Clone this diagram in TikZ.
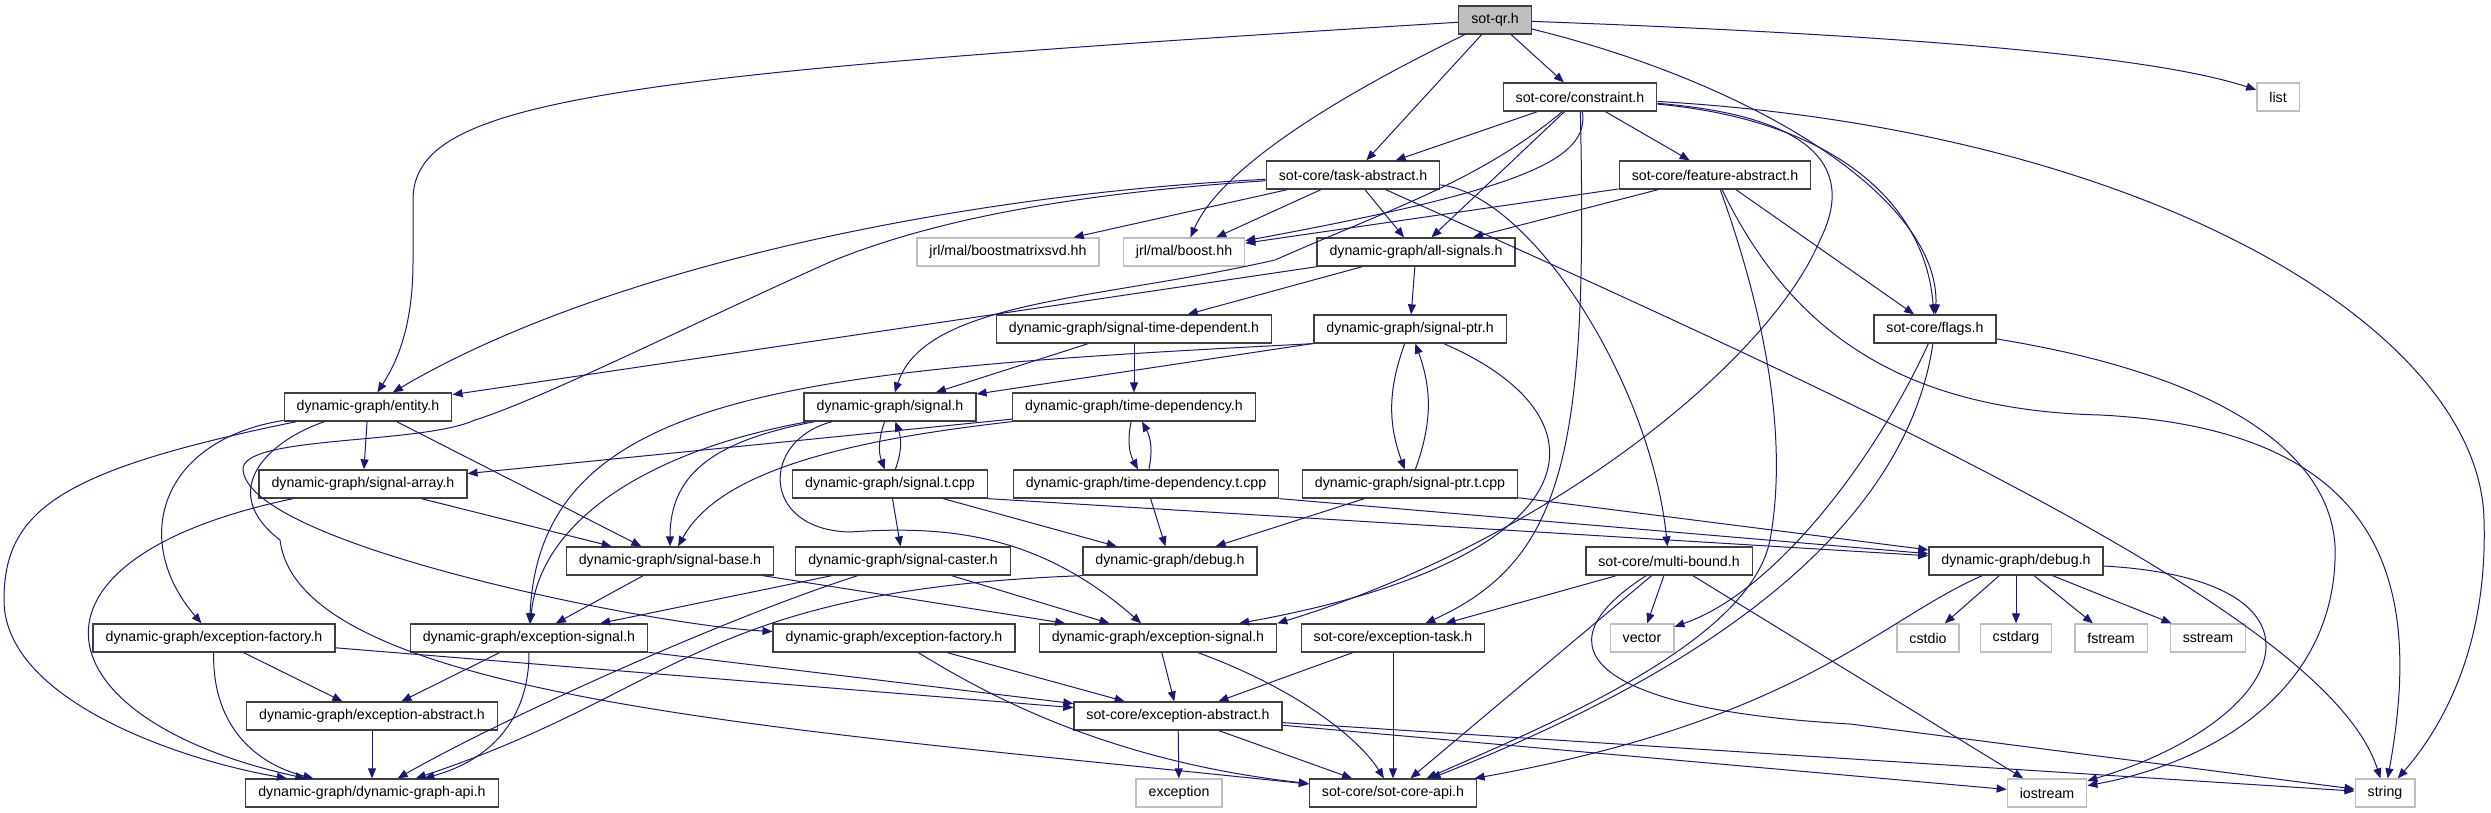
\documentclass[tikz,border=0pt]{standalone}
\usepackage{fontspec}
\setmainfont{Liberation Sans}[Ligatures=NoCommon]
\usetikzlibrary{arrows.meta}
\definecolor{edgeblue}{HTML}{191970}
\definecolor{boxgray}{HTML}{BFBFBF}
\definecolor{boxline}{HTML}{404040}

\begin{document}
\begin{tikzpicture}[x=1pt,y=-1pt]
\tikzset{
  filenode/.style={rectangle,draw=boxline,line width=1.3pt,fill=white,minimum height=28pt,inner xsep=12.5pt,inner ysep=2pt,font=\fontsize{14.2}{16}\selectfont},
  rootnode/.style={filenode,fill=boxgray},
  sysnode/.style={filenode,draw=boxgray},
  include/.style={-{Triangle[length=10pt,width=8pt]},draw=edgeblue,line width=1pt}
}
\useasboundingbox (0,0) rectangle (2491,813);
\node[rootnode] (n_sotqr) at (1495,20) {sot-qr.h};
\node[sysnode] (n_list) at (2278,97) {list};
\node[filenode] (n_constraint) at (1580,97) {sot-core/constraint.h};
\node[filenode] (n_task) at (1353,175) {sot-core/task-abstract.h};
\node[filenode] (n_feature) at (1715,175) {sot-core/feature-abstract.h};
\node[sysnode] (n_boostsvd) at (1008,252) {jrl/mal/boostmatrixsvd.hh};
\node[sysnode] (n_boost) at (1184,252) {jrl/mal/boost.hh};
\node[filenode] (n_allsig) at (1416,252) {dynamic-graph/all-signals.h};
\node[filenode] (n_sigtd) at (1134,329) {dynamic-graph/signal-time-dependent.h};
\node[filenode] (n_sigptr) at (1410,329) {dynamic-graph/signal-ptr.h};
\node[filenode] (n_flags) at (1935,329) {sot-core/flags.h};
\node[filenode] (n_entity) at (368,407) {dynamic-graph/entity.h};
\node[filenode] (n_signal) at (890,407) {dynamic-graph/signal.h};
\node[filenode] (n_timedep) at (1134,407) {dynamic-graph/time-dependency.h};
\node[filenode] (n_sigarray) at (363,484) {dynamic-graph/signal-array.h};
\node[filenode] (n_sigt) at (890,484) {dynamic-graph/signal.t.cpp};
\node[filenode] (n_tdt) at (1146,484) {dynamic-graph/time-dependency.t.cpp};
\node[filenode] (n_sigptrt) at (1410,484) {dynamic-graph/signal-ptr.t.cpp};
\node[filenode] (n_sigbase) at (670,561) {dynamic-graph/signal-base.h};
\node[filenode] (n_caster) at (903,561) {dynamic-graph/signal-caster.h};
\node[filenode] (n_debugm) at (1170,561) {dynamic-graph/debug.h};
\node[filenode] (n_multibound) at (1669,561) {sot-core/multi-bound.h};
\node[filenode] (n_debugr) at (2016,561) {dynamic-graph/debug.h};
\node[filenode] (n_excfact) at (214,638) {dynamic-graph/exception-factory.h};
\node[filenode] (n_excsig) at (529,638) {dynamic-graph/exception-signal.h};
\node[filenode] (n_excfactb) at (894,638) {dynamic-graph/exception-factory.h};
\node[filenode] (n_excsigb) at (1158,638) {dynamic-graph/exception-signal.h};
\node[filenode] (n_exctask) at (1393,638) {sot-core/exception-task.h};
\node[sysnode] (n_vector) at (1642,638) {vector};
\node[sysnode] (n_cstdio) at (1928,638) {cstdio};
\node[sysnode] (n_cstdarg) at (2016,638) {cstdarg};
\node[sysnode] (n_fstream) at (2111,638) {fstream};
\node[sysnode] (n_sstream) at (2208,638) {sstream};
\node[filenode] (n_excabs) at (372,716) {dynamic-graph/exception-abstract.h};
\node[filenode] (n_sotexcabs) at (1178,716) {sot-core/exception-abstract.h};
\node[filenode] (n_dgapi) at (372,793) {dynamic-graph/dynamic-graph-api.h};
\node[sysnode] (n_exception) at (1179,793) {exception};
\node[filenode] (n_sotapi) at (1393,793) {sot-core/sot-core-api.h};
\node[sysnode] (n_iostream) at (2047,793) {iostream};
\node[sysnode] (n_string) at (2385,793) {string};
\draw[include] (n_sotqr) .. controls (600,75) and (413,100) .. (413,200) -- (413,262) .. controls (413,330) and (395,365) .. (n_entity);
\draw[include] (n_sotqr) -- (n_task);
\draw[include] (n_sotqr) .. controls (1330,100) and (1220,170) .. (n_boost);
\draw[include] (n_sotqr) -- (n_constraint);
\draw[include] (n_sotqr) .. controls (1900,35) and (2150,55) .. (n_list);
\draw[include] (n_sotqr) .. controls (1760,85) and (1940,200) .. (n_flags);
\draw[include] (n_constraint) -- (n_task);
\draw[include] (n_constraint) .. controls (1590,160) and (1520,190) .. (n_boost);
\draw[include] (n_constraint) -- (n_allsig);
\draw[include] (n_constraint) -- (n_feature);
\draw[include] (n_constraint) .. controls (1588,450) and (1565,560) .. (n_exctask);
\draw[include] (n_constraint) .. controls (1830,120) and (1925,200) .. (n_flags);
\draw[include] (n_constraint) .. controls (2150,130) and (2480,330) .. (2484,520) .. controls (2488,650) and (2440,730) .. (n_string);
\draw[include] (n_constraint) .. controls (1480,180) and (1400,205) .. (1275,260) .. controls (1100,300) and (925,300) .. (n_signal);
\draw[include] (n_constraint) .. controls (1800,115) and (1860,160) .. (1820,240) .. controls (1770,360) and (1550,540) .. (n_excsigb.north east);
\draw[include] (n_task) .. controls (950,195) and (600,270) .. (n_entity);
\draw[include] (n_task) -- (n_boostsvd);
\draw[include] (n_task) -- (n_boost);
\draw[include] (n_task) -- (n_allsig);
\draw[include] (n_task) .. controls (1530,195) and (1650,380) .. (n_multibound);
\draw[include] (n_task) .. controls (1900,420) and (2330,620) .. (n_string);
\draw[include] (n_task) .. controls (1050,195) and (920,225) .. (830,262) .. controls (700,320) and (540,400) .. (475,420) .. controls (420,445) and (240,435) .. (243,470) .. controls (250,545) and (650,625) .. (n_excfactb);
\draw[include] (n_feature) -- (n_boost);
\draw[include] (n_feature) -- (n_allsig);
\draw[include] (n_feature) -- (n_flags);
\draw[include] (n_feature) .. controls (1760,300) and (1790,430) .. (1770,540) .. controls (1750,640) and (1560,720) .. (n_sotapi);
\draw[include] (n_feature) .. controls (1790,330) and (1900,410) .. (2100,415) .. controls (2400,430) and (2420,600) .. (n_string);
\draw[include] (n_allsig) -- (n_entity);
\draw[include] (n_allsig) -- (n_sigtd);
\draw[include] (n_allsig) -- (n_sigptr);
\draw[include] (n_sigtd) -- (n_signal);
\draw[include] (n_sigtd) -- (n_timedep);
\draw[include] (n_sigptr) -- (n_signal);
\draw[include] (n_sigptr.south west) .. controls (800,370) and (540,390) .. (n_excsig);
\draw[include] (n_sigptr) to[bend right=20] (n_sigptrt);
\draw[include] (n_sigptrt) to[bend right=20] (n_sigptr);
\draw[include] (n_sigptr) .. controls (1620,420) and (1590,560) .. (n_excsigb);
\draw[include] (n_sigptrt) -- (n_debugm);
\draw[include] (n_sigptrt) -- (n_debugr);
\draw[include] (n_flags) .. controls (1880,450) and (1780,590) .. (n_vector);
\draw[include] (n_flags) .. controls (1910,500) and (1760,650) .. (n_sotapi);
\draw[include] (n_flags) .. controls (2250,380) and (2340,470) .. (2335,560) .. controls (2330,700) and (2200,765) .. (n_iostream);
\draw[include] (n_entity) -- (n_sigarray);
\draw[include] (n_entity) -- (n_sigbase);
\draw[include] (n_entity) .. controls (160,440) and (130,540) .. (n_excfact);
\draw[include] (n_entity) .. controls (60,470) and (4,510) .. (4,600) .. controls (4,700) and (180,760) .. (n_dgapi);
\draw[include] (n_entity) .. controls (270,440) and (215,490) .. (280,540) .. controls (300,700) and (800,730) .. (n_sotapi);
\draw[include] (n_signal) to[bend right=20] (n_sigt);
\draw[include] (n_sigt) to[bend right=20] (n_signal);
\draw[include] (n_signal) .. controls (720,440) and (670,470) .. (n_sigbase);
\draw[include] (n_signal) .. controls (650,450) and (540,520) .. (n_excsig);
\draw[include] (n_signal) .. controls (760,440) and (760,530) .. (850,532) .. controls (950,525) and (1040,535) .. (n_excsigb);
\draw[include] (n_timedep) to[bend right=20] (n_tdt);
\draw[include] (n_tdt) to[bend right=20] (n_timedep);
\draw[include] (n_timedep) -- (n_sigarray);
\draw[include] (n_timedep.south west) .. controls (850,440) and (720,470) .. (n_sigbase);
\draw[include] (n_sigarray) -- (n_sigbase);
\draw[include] (n_sigarray) .. controls (0,560) and (40,720) .. (n_dgapi);
\draw[include] (n_sigt) -- (n_caster);
\draw[include] (n_sigt) -- (n_debugm);
\draw[include] (n_sigt.south east) -- (n_debugr);
\draw[include] (n_tdt) -- (n_debugm);
\draw[include] (n_tdt.south east) -- (n_debugr);
\draw[include] (n_sigbase) -- (n_excsig);
\draw[include] (n_sigbase) -- (n_excsigb);
\draw[include] (n_caster) -- (n_excsig);
\draw[include] (n_caster) .. controls (720,620) and (500,720) .. (n_dgapi);
\draw[include] (n_caster) -- (n_excsigb);
\draw[include] (n_debugm.south west) .. controls (700,590) and (680,690) .. (n_dgapi);
\draw[include] (n_multibound) -- (n_exctask);
\draw[include] (n_multibound) -- (n_vector);
\draw[include] (n_multibound) -- (n_sotapi);
\draw[include] (n_multibound) -- (n_iostream);
\draw[include] (n_multibound) .. controls (1530,650) and (1600,710) .. (1850,724) -- (n_string);
\draw[include] (n_debugr) -- (n_cstdio);
\draw[include] (n_debugr) -- (n_cstdarg);
\draw[include] (n_debugr) -- (n_fstream);
\draw[include] (n_debugr) -- (n_sstream);
\draw[include] (n_debugr) .. controls (2350,580) and (2290,720) .. (n_iostream);
\draw[include] (n_debugr) .. controls (1880,620) and (1800,720) .. (n_sotapi);
\draw[include] (n_excfact) -- (n_excabs);
\draw[include] (n_excfact) .. controls (212,730) and (260,765) .. (n_dgapi);
\draw[include] (n_excfact) -- (n_sotexcabs);
\draw[include] (n_excsig) -- (n_excabs);
\draw[include] (n_excsig) .. controls (529,720) and (490,760) .. (n_dgapi);
\draw[include] (n_excsig) -- (n_sotexcabs);
\draw[include] (n_excfactb) -- (n_sotexcabs);
\draw[include] (n_excfactb) .. controls (980,690) and (1100,760) .. (n_sotapi);
\draw[include] (n_excsigb) -- (n_sotexcabs);
\draw[include] (n_excsigb) .. controls (1300,690) and (1360,740) .. (n_sotapi);
\draw[include] (n_exctask) -- (n_sotexcabs);
\draw[include] (n_exctask) -- (n_sotapi);
\draw[include] (n_excabs) -- (n_dgapi);
\draw[include] (n_sotexcabs) -- (n_exception);
\draw[include] (n_sotexcabs) -- (n_sotapi);
\draw[include] (n_sotexcabs) -- (n_iostream);
\draw[include] (n_sotexcabs) -- (n_string);
\end{tikzpicture}
\end{document}
